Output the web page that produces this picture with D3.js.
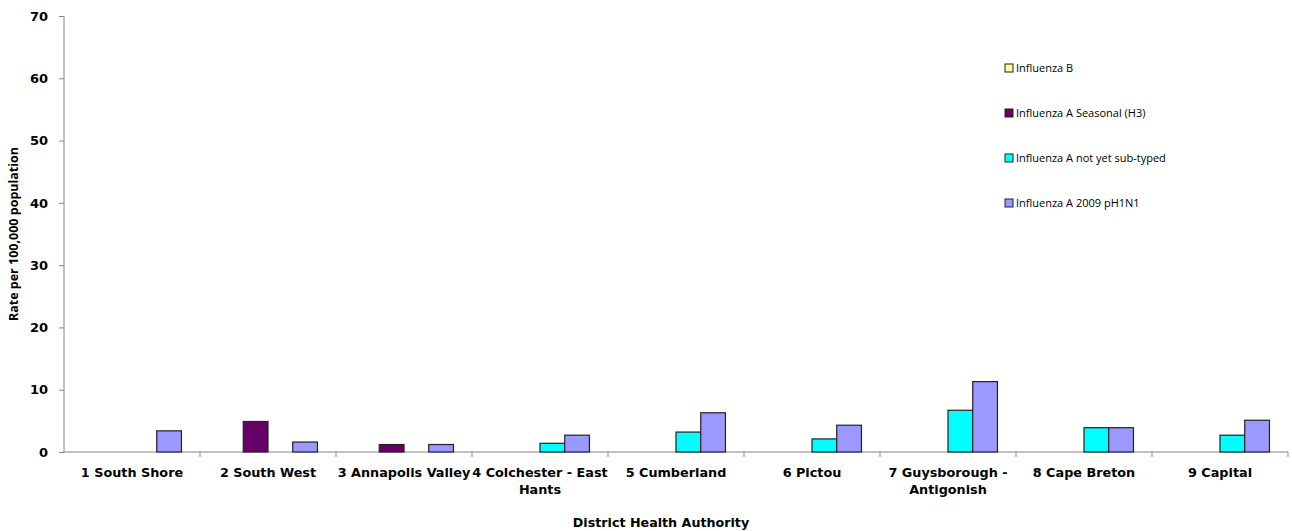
<!DOCTYPE html>
<html>
<head>
<meta charset="utf-8">
<script src="https://cdn.jsdelivr.net/npm/d3@7"></script>
<style>
	body { margin: 0; background: #fff; }
	svg { display: block; font-family: "DejaVu Sans", sans-serif; }
	.tick text { font-weight: bold; font-size: 13px; fill: #000; font-family: "DejaVu Sans", sans-serif; }
	.axis path, .axis line { stroke: #868686; }
</style>
</head>
<body>
<div id="chart"></div>
<script>
var categories = ["1 South Shore", "2 South West", "3 Annapolis Valley", "4 Colchester - East Hants", "5 Cumberland", "6 Pictou", "7 Guysborough - Antigonish", "8 Cape Breton", "9 Capital"]
var seriesNames = ["Influenza B", "Influenza A Seasonal (H3)", "Influenza A not yet sub-typed", "Influenza A 2009 pH1N1"]
var colours = ["#FFFF99", "#660066", "#00FFFF", "#9999FF"]
var fluB = [0, 0, 0, 0, 0, 0, 0, 0, 0]
var fluH3 = [0, 4.9, 1.2, 0, 0, 0, 0, 0, 0]
var fluNotTyped = [0, 0, 0, 1.4, 3.2, 2.1, 6.7, 3.9, 2.7]
var fluH1N1 = [3.4, 1.6, 1.2, 2.7, 6.3, 4.3, 11.3, 3.9, 5.1]
var yTicks = [0, 10, 20, 30, 40, 50, 60, 70]

var series = [fluB, fluH3, fluNotTyped, fluH1N1]

var fullWidth = 1292, fullHeight = 531
var margin = {top: 16, right: 4, bottom: 79, left: 64}
var width = fullWidth - margin.left - margin.right
var height = fullHeight - margin.top - margin.bottom

var svg = d3.select("#chart")
	.append("svg")
	.attr("width", fullWidth)
	.attr("height", fullHeight)

var g = svg.append("g")
	.attr("transform", "translate(" + margin.left + "," + margin.top + ")")

var x0 = d3.scaleBand()
	.domain(categories)
	.range([0, 9 * 136])

// excel style gap: 150% of a bar, split on both sides
var x1 = d3.scaleBand()
	.domain(d3.range(seriesNames.length))
	.range([0, x0.bandwidth()])
	.paddingInner(0)
	.paddingOuter(0.75)

var y = d3.scaleLinear()
	.domain([0, 70])
	.range([height, 0])

// y axis
var yAxis = g.append("g")
	.attr("class", "axis")
	.call(d3.axisLeft(y).tickValues(yTicks).tickSize(5).tickSizeOuter(0))
yAxis.selectAll(".tick text").attr("x", -16)
yAxis.select(".domain").attr("d", "M0," + y(70) + "V" + y(0))

// x axis, ticks between categories
var xAxis = g.append("g")
	.attr("class", "axis")
	.attr("transform", "translate(0," + height + ")")
xAxis.append("line")
	.attr("x1", 0).attr("x2", width)
	.attr("stroke", "#868686")
xAxis.selectAll(".bound")
	.data(categories)
	.enter().append("line")
	.attr("class", "bound")
	.attr("x1", d => x0(d) + x0.bandwidth())
	.attr("x2", d => x0(d) + x0.bandwidth())
	.attr("y1", 0).attr("y2", 5)
	.attr("stroke", "#868686")

xAxis.selectAll(".cat")
	.data(categories)
	.enter().append("text")
	.attr("class", "cat")
	.attr("x", d => x0(d) + x0.bandwidth() / 2)
	.attr("y", 25)
	.attr("text-anchor", "middle")
	.style("font-weight", "bold")
	.style("font-size", "12.8px")
	.text(d => d)
	.call(wrap, 146)

function wrap(texts, maxWidth){
	texts.each(function(){
		let text = d3.select(this)
		let words = text.text().split(" ")
		let cx = text.attr("x")
		text.text(null)
		let line = []
		let tspan = text.append("tspan").attr("x", cx).attr("dy", 0)
		words.forEach(word => {
			line.push(word)
			tspan.text(line.join(" "))
			if (tspan.node().getComputedTextLength() > maxWidth && line.length > 1) {
				line.pop()
				tspan.text(line.join(" "))
				line = [word]
				tspan = text.append("tspan").attr("x", cx).attr("dy", 17).text(word)
			}
		})
	})
}

// bars
var groups = g.selectAll(".group")
	.data(categories)
	.enter().append("g")
	.attr("class", "group")
	.attr("transform", d => "translate(" + x0(d) + ",0)")

groups.selectAll("rect")
	.data((d, i) => series.map((s, k) => ({k: k, value: s[i]})).filter(b => b.value > 0))
	.enter().append("rect")
	.attr("x", b => x1(b.k))
	.attr("width", x1.bandwidth())
	.attr("y", b => y(b.value))
	.attr("height", b => y(0) - y(b.value))
	.attr("fill", b => colours[b.k])
	.attr("stroke", "#222")
	.attr("stroke-width", 1.2)

// axis titles
svg.append("text")
	.attr("transform", "translate(18," + (margin.top + height / 2) + ") rotate(-90)")
	.attr("text-anchor", "middle")
	.style("font-family", "'Open Sans', sans-serif")
	.style("font-weight", "bold")
	.style("font-size", "12.5px")
	.text("Rate per 100,000 population")

svg.append("text")
	.attr("x", 661)
	.attr("y", 527)
	.attr("text-anchor", "middle")
	.style("font-weight", "bold")
	.style("font-size", "12.7px")
	.text("District Health Authority")

// legend
var legend = svg.append("g")
	.attr("transform", "translate(1005,64)")
var items = legend.selectAll(".item")
	.data(seriesNames)
	.enter().append("g")
	.attr("class", "item")
	.attr("transform", (d, i) => "translate(0," + (i * 45) + ")")
items.append("rect")
	.attr("width", 8).attr("height", 8)
	.attr("fill", (d, i) => colours[i])
	.attr("stroke", "#222")
items.append("text")
	.attr("x", 11)
	.attr("y", 8)
	.style("font-family", "'Open Sans', sans-serif")
	.style("font-size", "11px")
	.text(d => d)
</script>
</body>
</html>
